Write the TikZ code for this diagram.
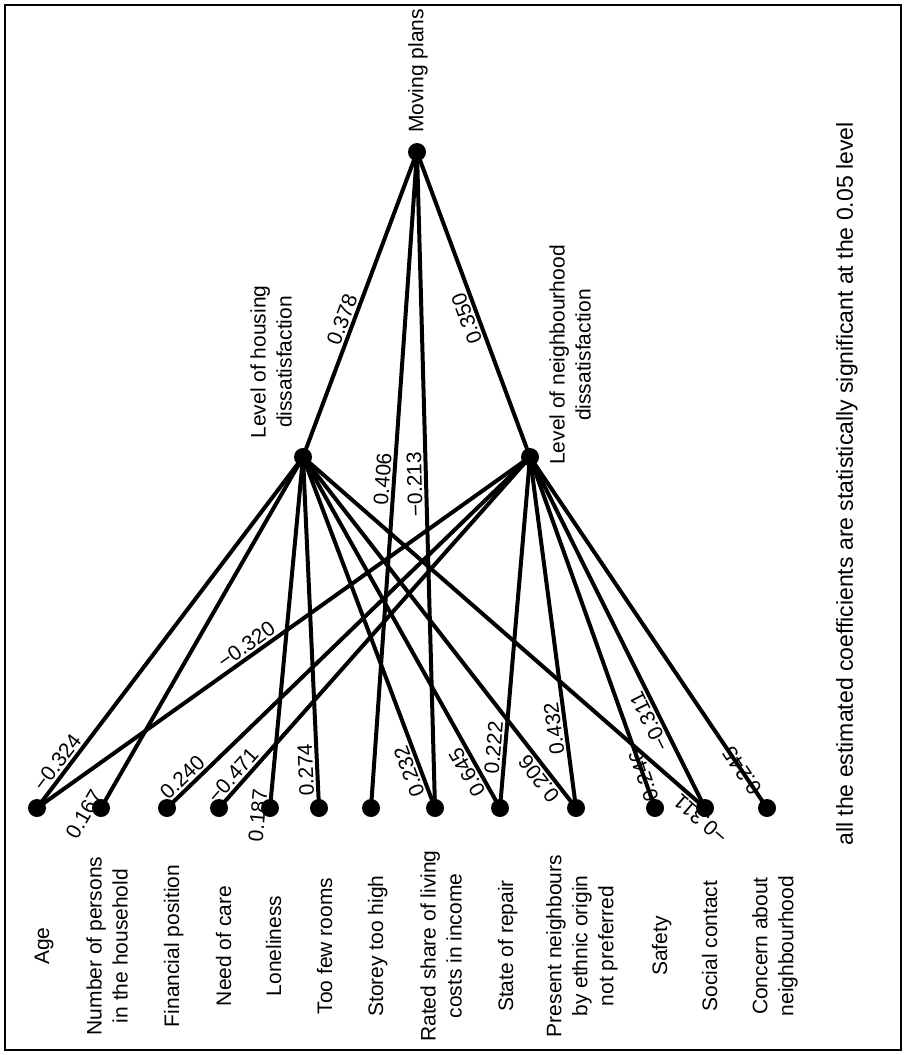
\documentclass[tikz,border=0pt]{standalone}
\usepackage{fontspec}
\setmainfont{Liberation Sans}
\newcommand\myfs{\fontsize{21}{26}\selectfont}
\newcommand\mynotefs{\fontsize{23}{28}\selectfont}
\begin{document}
\begin{tikzpicture}[x=1pt,y=-1pt,
  dot/.style={circle,fill=black,inner sep=0pt,minimum size=18pt},
  edge/.style={line width=4pt},
  lab/.style={sloped,allow upside down,anchor=south,inner sep=2pt,font=\myfs},
  labc/.style={sloped,allow upside down,anchor=center,inner sep=1pt,font=\myfs},
  vlabel/.style={rotate=90,align=center,inner sep=0pt,font=\myfs}]
\useasboundingbox (0,0) rectangle (909,1055);
\draw[line width=2.5pt] (5,5) rectangle (901,1050);
% nodes
\node[dot] (mov) at (417,152) {};
\node[dot] (hou) at (303,457) {};
\node[dot] (nei) at (530,457) {};
\node[dot] (age) at (37,808) {};
\node[dot] (num) at (101,808) {};
\node[dot] (fin) at (167,808) {};
\node[dot] (need) at (219,808) {};
\node[dot] (lon) at (270,808) {};
\node[dot] (few) at (319,808) {};
\node[dot] (sto) at (371,808) {};
\node[dot] (rat) at (435,808) {};
\node[dot] (rep) at (500,808) {};
\node[dot] (pre) at (576,808) {};
\node[dot] (saf) at (655,808) {};
\node[dot] (soc) at (705,808) {};
\node[dot] (con) at (767,808) {};
% edges
\draw[edge] (hou.center) -- node[lab,pos=0.437] (l1) {0.378} (mov.center);
\draw[edge] (nei.center) -- node[lab,pos=0.466] (l2) {0.350} (mov.center);
\draw[edge] (sto.center) -- node[lab,pos=0.50] (l3) {0.406} (mov.center);
\draw[edge] (rat.center) -- node[lab,pos=0.494] (l4) {−0.213} (mov.center);
\draw[edge] (age.center) -- node[lab,pos=0.11] (l5) {−0.324} (hou.center);
\draw[edge] (age.center) -- node[lab,pos=0.438] (l6) {−0.320} (nei.center);
\draw[edge] (num.center) -- node[lab,pos=-0.035] (l7) {0.167} (hou.center);
\draw[edge] (fin.center) -- node[lab,pos=0.064] (l8) {0.240} (nei.center);
\draw[edge] (need.center) -- node[lab,pos=0.072] (l9) {−0.471} (nei.center);
\draw[edge] (lon.center) -- node[lab,pos=-0.024] (l10) {0.187} (hou.center);
\draw[edge] (few.center) -- node[lab,pos=0.11] (l11) {0.274} (hou.center);
\draw[edge] (rat.center) -- node[lab,pos=0.115] (l12) {0.232} (hou.center);
\draw[edge] (rep.center) -- node[lab,pos=0.117] (l13) {0.645} (hou.center);
\draw[edge] (rep.center) -- node[lab,pos=0.169] (l14) {0.222} (nei.center);
\draw[edge] (pre.center) -- node[lab,pos=0.103] (l15) {0.206} (hou.center);
\draw[edge] (pre.center) -- node[lab,pos=0.23] (l16) {0.432} (nei.center);
\draw[edge] (saf.center) -- node[labc,pos=0.092] (l17) {0.246} (nei.center);
\draw[edge] (soc.center) -- node[lab,pos=-0.0075] (l18) {−0.311} (hou.center);
\draw[edge] (soc.center) -- node[lab,pos=0.26] (l19) {−0.311} (nei.center);
\draw[edge] (con.center) -- node[labc,pos=0.106] (l20) {0.245} (nei.center);
% texts
\node[vlabel,anchor=west] (tmov) at (418,133) {Moving plans};
\node[vlabel] (thou) at (271,362) {Level of housing\\dissatisfaction};
\node[vlabel] (tnei) at (570,355) {Level of neighbourhood\\dissatisfaction};
\node[vlabel,anchor=base] (tage) at (49,946) {Age};
\node[vlabel] (tnum) at (107,946) {Number of persons\\in the household};
\node[vlabel,anchor=base] (tfin) at (179,946) {Financial position};
\node[vlabel,anchor=base] (tneed) at (231,946) {Need of care};
\node[vlabel,anchor=base] (tlon) at (281,946) {Loneliness};
\node[vlabel,anchor=base] (tfew) at (332,946) {Too few rooms};
\node[vlabel,anchor=base] (tsto) at (383,946) {Storey too high};
\node[vlabel] (trat) at (441,946) {Rated share of living\\costs in income};
\node[vlabel,anchor=base] (trep) at (513,946) {State of repair};
\node[vlabel] (tpre) at (582,946) {Present neighbours\\by ethnic origin\\not preferred};
\node[vlabel,anchor=base] (tsaf) at (667,946) {Safety};
\node[vlabel,anchor=base] (tsoc) at (717,946) {Social contact};
\node[vlabel] (tcon) at (775,946) {Concern about\\neighbourhood};
\node[vlabel,font=\mynotefs] (tnote) at (847,484) {all the estimated coefficients are statistically significant at the 0.05 level};
\end{tikzpicture}
\end{document}
